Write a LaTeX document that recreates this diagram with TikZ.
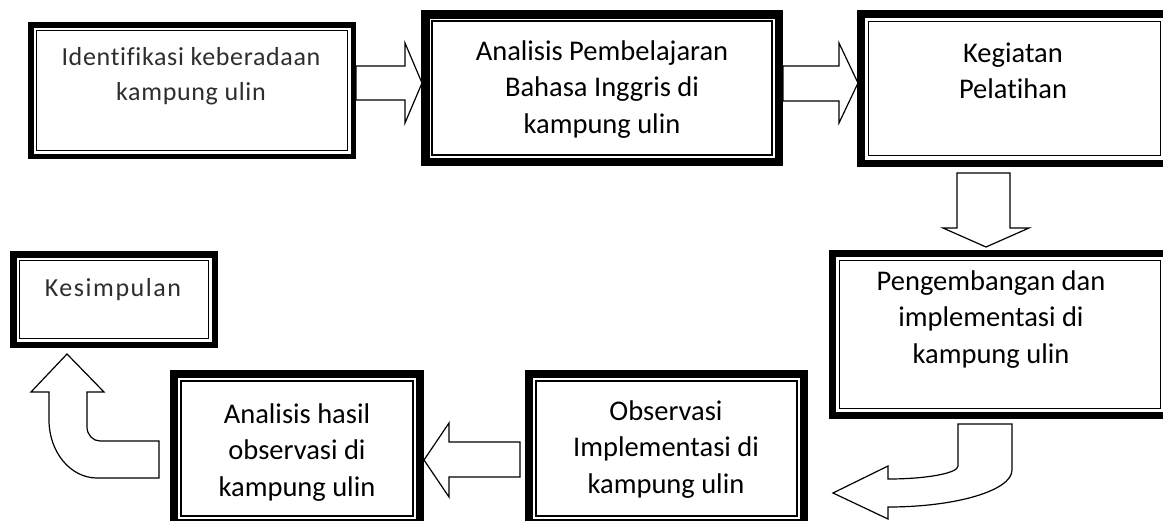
\documentclass[tikz,border=0pt]{standalone}
\usepackage{fontspec}
\setmainfont{Carlito}[Ligatures=NoCommon]
\newfontfamily\idfont{Carlito}[LetterSpace=2.6,Ligatures=NoCommon]
\newfontfamily\kesfont{Carlito}[LetterSpace=6,Ligatures=NoCommon]
\begin{document}
\begin{tikzpicture}[x=1pt,y=-1pt,
  flowbox/.style={draw, line width=#1, inner sep=0pt, fill=white},
  innerline/.style={draw=black, line width=1.1pt},
  blockarrow/.style={draw, fill=white, line width=1.2pt, line join=miter},
  lbl/.style={anchor=north, inner sep=0pt, align=center, font=\fontsize{28.5}{36.5}\selectfont},
  graylbl/.style={anchor=north, inner sep=0pt, align=center, text=black!82}]
\useasboundingbox (0,0) rectangle (1163,520);
\clip (0,0) rectangle (1163,520);
% boxes (thick outer frame)
\node[flowbox=5.5, minimum width=322.5, minimum height=131.5] (b1) at (192,90.5) {};
\node[flowbox=8.5, minimum width=353.5, minimum height=147.5] (b2) at (602,88) {};
\node[flowbox=7.5, minimum width=307.5, minimum height=149.5] (b3) at (1014.5,88.5) {};
\node[flowbox=7, minimum width=335, minimum height=162] (b4) at (1000,334.5) {};
\node[flowbox=8, minimum width=275, minimum height=149] (b5) at (666.5,448.5) {};
\node[flowbox=8, minimum width=246, minimum height=149] (b6) at (297,448.5) {};
\node[flowbox=6.5, minimum width=201.5, minimum height=90.5] (b7) at (114,299.5) {};
% thin inner frames
\draw[innerline] (36.3,30.3) rectangle (347.7,150.7);
\draw[innerline] (432,21) rectangle (772,155);
\draw[innerline] (868.25,21.25) rectangle (1160.75,155.75);
\draw[innerline] (839.5,260.5) rectangle (1160.5,408.5);
\draw[innerline] (536,381) rectangle (797,516);
\draw[innerline] (181,381) rectangle (413,516);
\draw[innerline] (19.5,260.5) rectangle (208.5,338.5);
% texts
\node[graylbl, font=\idfont\fontsize{26}{35}\selectfont] (t1) at (191,35) {\rule{0pt}{30pt}Identifikasi keberadaan\\kampung ulin};
\node[lbl] (t2) at (602,30) {\rule{0pt}{30pt}Analisis Pembelajaran\\Bahasa Inggris di\\kampung ulin};
\node[lbl] (t3) at (1013,32) {\rule{0pt}{30pt}Kegiatan\\Pelatihan};
\node[lbl] (t4) at (991,260) {\rule{0pt}{30pt}Pengembangan dan\\implementasi di\\kampung ulin};
\node[lbl] (t5) at (666,390) {\rule{0pt}{30pt}Observasi\\Implementasi di\\kampung ulin};
\node[lbl] (t6) at (297,393) {\rule{0pt}{30pt}Analisis hasil\\observasi di\\kampung ulin};
\node[graylbl, font=\kesfont\fontsize{26}{30}\selectfont] (t7) at (113,266) {\rule{0pt}{30pt}Kesimpulan};
% block arrows
\draw[blockarrow] (356,66) -- (405,66) -- (405,43) -- (422,83) -- (405,123) -- (405,100) -- (356,100) -- cycle;
\draw[blockarrow] (783,66) -- (839,66) -- (839,43) -- (858,83) -- (839,123) -- (839,101) -- (783,101) -- cycle;
\draw[blockarrow] (957,173) -- (1010,173) -- (1010,228) -- (1029,228) -- (986,247) -- (943,228) -- (957,228) -- cycle;
\draw[blockarrow] (958,424) -- (1012,424) -- (1012,470)
   arc[start angle=0, end angle=90, x radius=124, y radius=37]
   -- (888,519) -- (833,493) -- (888,466) -- (888,479)
   arc[start angle=90, end angle=0, x radius=70, y radius=13] -- cycle;
\draw[blockarrow] (520,442) -- (449,442) -- (449,423) -- (424,460) -- (449,497) -- (449,477) -- (520,477) -- cycle;
\draw[blockarrow] (87,392) -- (87,427)
   arc[start angle=180, end angle=90, x radius=13, y radius=14]
   -- (159,441) -- (159,478) -- (97,478)
   arc[start angle=90, end angle=180, x radius=48, y radius=58]
   -- (49,392) -- (31,392) -- (67,354) -- (104,392) -- cycle;
\end{tikzpicture}
\end{document}
